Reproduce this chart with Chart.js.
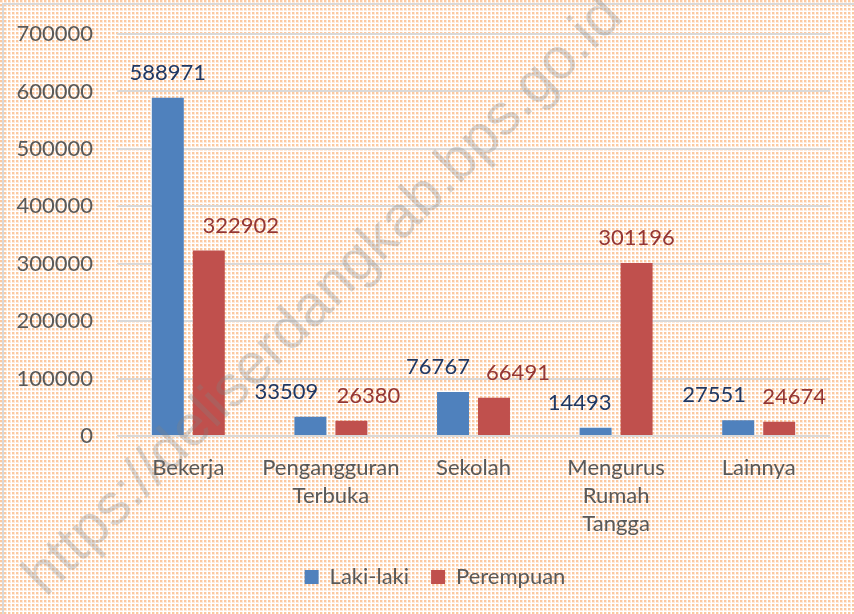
<!DOCTYPE html>
<html>
<head>
<meta charset="utf-8">
<script src="https://cdn.jsdelivr.net/npm/chart.js@4.4.1/dist/chart.umd.min.js"></script>
<style>
  html, body { margin: 0; padding: 0; background: #fff; }
  #wrap { width: 854px; height: 614px; }
</style>
</head>
<body>
<div id="wrap"><canvas id="c" width="854" height="614"></canvas></div>
<script>
const CATEGORIES = [['Bekerja'], ['Pengangguran', 'Terbuka'], ['Sekolah'], ['Mengurus', 'Rumah', 'Tangga'], ['Lainnya']];
const LAKI = [588971, 33509, 76767, 14493, 27551];
const PEREMPUAN = [322902, 26380, 66491, 301196, 24674];
const Y_TICKS = [0, 100000, 200000, 300000, 400000, 500000, 600000, 700000];

const FONT = 'Lato, "Noto Sans", sans-serif';
const TEXT = '#595959';

// small sideways nudges of the value labels, like Excel does to avoid overlap
const LABEL_SHIFT = [
  [0, -24, -15, -16, -24],
  [32, 17, 24, 0, 15],
];
const LABEL_COLORS = ['#1F3864', '#943634'];

function makePattern(ctx) {
  const p = document.createElement('canvas');
  p.width = 4; p.height = 4;
  const c = p.getContext('2d');
  c.fillStyle = '#ffffff';
  c.fillRect(0, 0, 4, 4);
  c.fillStyle = '#feeadb';
  c.fillRect(0, 0, 3, 3);
  c.fillStyle = '#fbc9a0';
  c.fillRect(0, 0, 2, 2);
  return ctx.createPattern(p, 'repeat');
}

const backgroundPlugin = {
  id: 'dottedBackground',
  beforeDraw(chart) {
    const { ctx, width, height } = chart;
    ctx.save();
    ctx.fillStyle = makePattern(ctx);
    ctx.fillRect(0, 0, width, height);
    ctx.strokeStyle = '#d9d9d9';
    ctx.lineWidth = 2;
    ctx.strokeRect(3, 4, width + 10, height + 10);
    ctx.restore();
  },
};

const valueLabelPlugin = {
  id: 'valueLabels',
  afterDatasetsDraw(chart) {
    const { ctx } = chart;
    ctx.save();
    ctx.font = '22px ' + FONT;
    ctx.textAlign = 'center';
    ctx.textBaseline = 'middle';
    chart.data.datasets.forEach((ds, di) => {
      const meta = chart.getDatasetMeta(di);
      ctx.fillStyle = LABEL_COLORS[di];
      meta.data.forEach((bar, i) => {
        ctx.fillText(String(ds.data[i]), bar.x + LABEL_SHIFT[di][i], bar.y - 25);
      });
    });
    ctx.restore();
  },
};

const watermarkPlugin = {
  id: 'watermark',
  afterDraw(chart) {
    const { ctx } = chart;
    ctx.save();
    ctx.translate(324, 297);
    ctx.rotate(-Math.PI / 4);
    ctx.font = '58px "Liberation Sans", Arial, sans-serif';
    ctx.textAlign = 'center';
    ctx.textBaseline = 'middle';
    ctx.fillStyle = 'rgba(130,130,130,0.3)';
    ctx.fillText('https://deliserdangkab.bps.go.id', 0, 0);
    ctx.restore();
  },
};

new Chart(document.getElementById('c'), {
  type: 'bar',
  data: {
    labels: CATEGORIES,
    datasets: [
      { label: 'Laki-laki', data: LAKI, backgroundColor: '#4F81BD', barPercentage: 0.78, categoryPercentage: 0.575 },
      { label: 'Perempuan', data: PEREMPUAN, backgroundColor: '#C0504D', barPercentage: 0.78, categoryPercentage: 0.575 },
    ],
  },
  options: {
    responsive: false,
    animation: false,
    layout: { padding: { top: 34, right: 0, bottom: 16, left: 16 } },
    plugins: {
      legend: {
        position: 'bottom',
        labels: {
          color: TEXT,
          font: { family: FONT, size: 22 },
          boxWidth: 14,
          boxHeight: 14,
          padding: 22,
        },
      },
      tooltip: { enabled: false },
    },
    scales: {
      x: {
        grid: { display: false },
        border: { display: false },
        ticks: {
          color: TEXT,
          font: { family: FONT, size: 22, lineHeight: 1.27 },
          padding: 10,
          maxRotation: 0,
          autoSkip: false,
        },
        afterFit: scale => { scale.height = 108; },
      },
      y: {
        min: 0,
        max: 700000,
        afterBuildTicks: scale => { scale.ticks = Y_TICKS.map(v => ({ value: v })); },
        grid: { color: '#d9d9d9', lineWidth: 2, drawTicks: false },
        border: { display: false },
        ticks: {
          color: TEXT,
          font: { family: FONT, size: 22 },
          padding: 24,
          callback: v => String(v),
        },
        afterFit: scale => {
          scale.width = 101;
          scale.paddingTop = 0;
          scale.paddingBottom = 0;
        },
      },
      // empty right-hand strip so the plot ends where the original does
      yRight: {
        position: 'right',
        min: 0,
        max: 700000,
        grid: { display: false },
        border: { display: false },
        ticks: { display: false },
        afterFit: scale => { scale.width = 24; },
      },
    },
  },
  plugins: [backgroundPlugin, valueLabelPlugin, watermarkPlugin],
});
</script>
</body>
</html>
